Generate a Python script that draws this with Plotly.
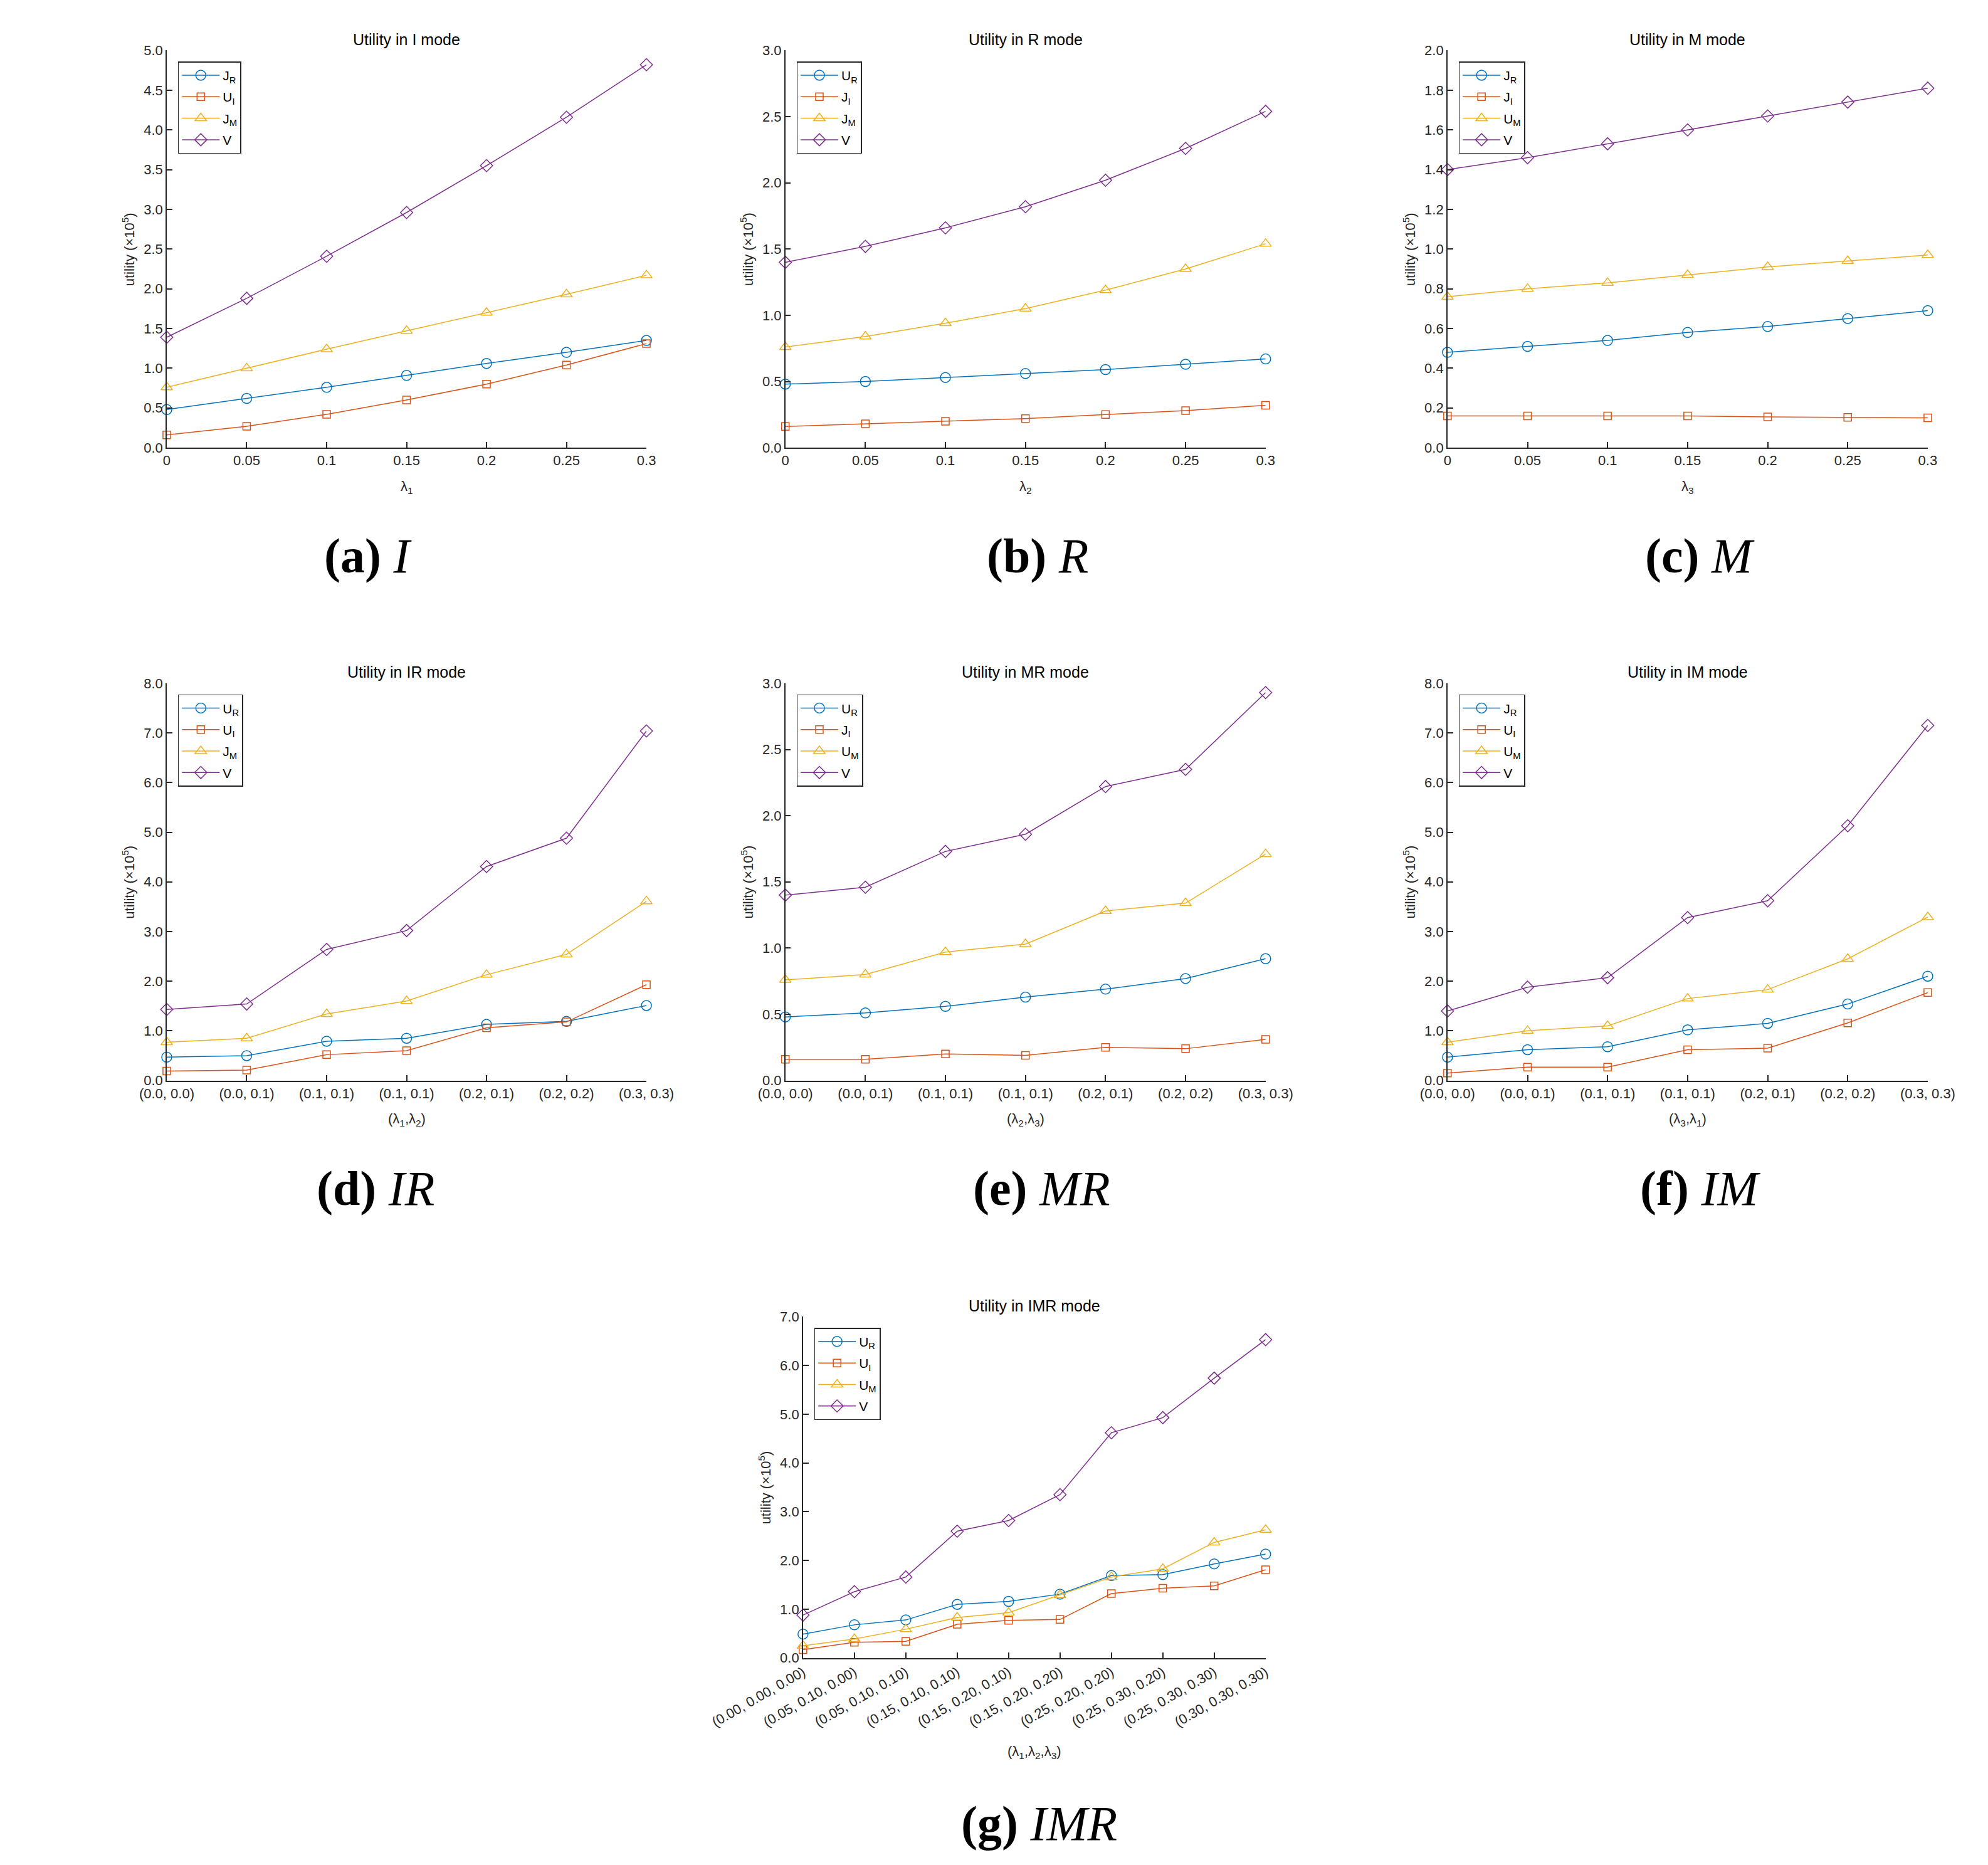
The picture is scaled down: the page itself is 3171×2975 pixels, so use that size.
import plotly.graph_objects as go

W, H = 3171, 2975

# x values
lam = [0, 0.05, 0.1, 0.15, 0.2, 0.25, 0.3]
pair_labels = ["(0.0, 0.0)", "(0.0, 0.1)", "(0.1, 0.1)", "(0.1, 0.1)",
               "(0.2, 0.1)", "(0.2, 0.2)", "(0.3, 0.3)"]
triple_labels = ["(0.00, 0.00, 0.00)", "(0.05, 0.10, 0.00)", "(0.05, 0.10, 0.10)",
                 "(0.15, 0.10, 0.10)", "(0.15, 0.20, 0.10)", "(0.15, 0.20, 0.20)",
                 "(0.25, 0.20, 0.20)", "(0.25, 0.30, 0.20)", "(0.25, 0.30, 0.30)",
                 "(0.30, 0.30, 0.30)"]

# (a) I mode
a_jr = [0.48, 0.62, 0.76, 0.91, 1.06, 1.20, 1.35]
a_ui = [0.16, 0.27, 0.42, 0.60, 0.80, 1.04, 1.31]
a_jm = [0.76, 1.00, 1.24, 1.47, 1.70, 1.93, 2.17]
a_v = [1.39, 1.88, 2.41, 2.96, 3.55, 4.16, 4.82]

# (b) R mode
b_ur = [0.48, 0.50, 0.53, 0.56, 0.59, 0.63, 0.67]
b_ji = [0.16, 0.18, 0.20, 0.22, 0.25, 0.28, 0.32]
b_jm = [0.76, 0.84, 0.94, 1.05, 1.19, 1.35, 1.54]
b_v = [1.40, 1.52, 1.66, 1.82, 2.02, 2.26, 2.54]

# (c) M mode
c_jr = [0.48, 0.51, 0.54, 0.58, 0.61, 0.65, 0.69]
c_ji = [0.16, 0.16, 0.16, 0.16, 0.155, 0.153, 0.15]
c_um = [0.76, 0.80, 0.83, 0.87, 0.91, 0.94, 0.97]
c_v = [1.40, 1.46, 1.53, 1.60, 1.67, 1.74, 1.81]

# (d) IR mode
d_ur = [0.47, 0.50, 0.79, 0.85, 1.13, 1.19, 1.51]
d_ui = [0.19, 0.21, 0.52, 0.60, 1.06, 1.18, 1.93]
d_jm = [0.77, 0.85, 1.34, 1.60, 2.13, 2.54, 3.61]
d_v = [1.43, 1.54, 2.64, 3.02, 4.31, 4.88, 7.04]

# (e) MR mode
e_ur = [0.48, 0.51, 0.56, 0.63, 0.69, 0.77, 0.92]
e_ji = [0.16, 0.16, 0.20, 0.19, 0.25, 0.24, 0.31]
e_um = [0.76, 0.80, 0.97, 1.03, 1.28, 1.34, 1.71]
e_v = [1.40, 1.46, 1.73, 1.86, 2.22, 2.35, 2.93]

# (f) IM mode
f_jr = [0.47, 0.62, 0.68, 1.02, 1.15, 1.54, 2.10]
f_ui = [0.15, 0.27, 0.27, 0.62, 0.65, 1.16, 1.77]
f_um = [0.77, 1.00, 1.10, 1.65, 1.83, 2.45, 3.29]
f_v = [1.40, 1.88, 2.07, 3.28, 3.62, 5.13, 7.15]

# (g) IMR mode
g_ur = [0.49, 0.68, 0.78, 1.10, 1.16, 1.31, 1.69, 1.71, 1.93, 2.13]
g_ui = [0.17, 0.32, 0.34, 0.69, 0.77, 0.79, 1.32, 1.43, 1.48, 1.81]
g_um = [0.25, 0.39, 0.59, 0.83, 0.93, 1.29, 1.66, 1.83, 2.37, 2.63]
g_v = [0.88, 1.36, 1.66, 2.60, 2.82, 3.35, 4.62, 4.93, 5.74, 6.53]

COLORS = ["#0072BD", "#D95319", "#EDB120", "#7E2F8E"]
SYMBOLS = ["circle-open", "square-open", "triangle-up-open", "diamond-open"]
SIZES = [16, 12, 16, 15]
AX = "#262626"

# panel boxes in pixels: left, right, top, bottom
panels = [
    dict(box=(115, 930, 61, 700), title="Utility in I mode", xlab="λ<sub>1</sub>",
         x=lam, ticks=None, ymax=5, dy=0.5, cap="<b>(a)</b> <i>I</i>", capx=457, capy=874,
         names=["J<sub>R</sub>", "U<sub>I</sub>", "J<sub>M</sub>", "V"], ys=[a_jr, a_ui, a_jm, a_v]),
    dict(box=(1166, 1982, 61, 700), title="Utility in R mode", xlab="λ<sub>2</sub>",
         x=lam, ticks=None, ymax=3, dy=0.5, cap="<b>(b)</b> <i>R</i>", capx=1595, capy=874,
         names=["U<sub>R</sub>", "J<sub>I</sub>", "J<sub>M</sub>", "V"], ys=[b_ur, b_ji, b_jm, b_v]),
    dict(box=(2291, 3107, 61, 700), title="Utility in M mode", xlab="λ<sub>3</sub>",
         x=lam, ticks=None, ymax=2, dy=0.2, cap="<b>(c)</b> <i>M</i>", capx=2720, capy=874,
         names=["J<sub>R</sub>", "J<sub>I</sub>", "U<sub>M</sub>", "V"], ys=[c_jr, c_ji, c_um, c_v]),
    dict(box=(115, 930, 1079, 1718), title="Utility in IR mode", xlab="(λ<sub>1</sub>,λ<sub>2</sub>)",
         x=None, ticks=pair_labels, ymax=8, dy=1, cap="<b>(d)</b> <i>IR</i>", capx=470, capy=1891,
         names=["U<sub>R</sub>", "U<sub>I</sub>", "J<sub>M</sub>", "V"], ys=[d_ur, d_ui, d_jm, d_v]),
    dict(box=(1166, 1982, 1079, 1718), title="Utility in MR mode", xlab="(λ<sub>2</sub>,λ<sub>3</sub>)",
         x=None, ticks=pair_labels, ymax=3, dy=0.5, cap="<b>(e)</b> <i>MR</i>", capx=1602, capy=1891,
         names=["U<sub>R</sub>", "J<sub>I</sub>", "U<sub>M</sub>", "V"], ys=[e_ur, e_ji, e_um, e_v]),
    dict(box=(2291, 3107, 1079, 1718), title="Utility in IM mode", xlab="(λ<sub>3</sub>,λ<sub>1</sub>)",
         x=None, ticks=pair_labels, ymax=8, dy=1, cap="<b>(f)</b> <i>IM</i>", capx=2720, capy=1891,
         names=["J<sub>R</sub>", "U<sub>I</sub>", "U<sub>M</sub>", "V"], ys=[f_jr, f_ui, f_um, f_v]),
    dict(box=(1196, 1982, 2098, 2647), title="Utility in IMR mode",
         xlab="(λ<sub>1</sub>,λ<sub>2</sub>,λ<sub>3</sub>)",
         x=None, ticks=triple_labels, ymax=7, dy=1, cap="<b>(g)</b> <i>IMR</i>", capx=1597, capy=2913,
         names=["U<sub>R</sub>", "U<sub>I</sub>", "U<sub>M</sub>", "V"], ys=[g_ur, g_ui, g_um, g_v]),
]

fig = go.Figure()
annotations = []

for i, p in enumerate(panels):
    n = i + 1
    sfx = "" if n == 1 else str(n)
    l, r, t, b = p["box"]
    xdom = [l / W, r / W]
    ydom = [1 - b / H, 1 - t / H]
    leg = "legend" + sfx

    if p["x"] is not None:
        xs = p["x"]
        xaxis = dict(range=[0, 0.3], dtick=0.05, tickangle=0)
    else:
        xs = list(range(len(p["ticks"])))
        xaxis = dict(range=[0, len(xs) - 1], tickvals=xs, ticktext=p["ticks"],
                     tickangle=-30 if n == 7 else 0)

    for k in range(4):
        fig.add_trace(go.Scatter(
            x=xs, y=p["ys"][k], name=p["names"][k], mode="lines+markers",
            line=dict(color=COLORS[k], width=1.5),
            marker=dict(symbol=SYMBOLS[k], size=SIZES[k], color=COLORS[k],
                        line=dict(width=1.5, color=COLORS[k])),
            cliponaxis=False, legend=leg, legendgroup=f"p{n}_{k}",
            xaxis="x" + sfx, yaxis="y" + sfx,
        ))

    common = dict(showline=True, linecolor=AX, linewidth=1.5, ticks="inside", ticklen=9,
                  tickcolor=AX, tickwidth=1.5, showgrid=False, zeroline=False,
                  tickfont=dict(family="Liberation Sans", size=22, color=AX))
    fig.update_layout(**{
        "xaxis" + sfx: dict(domain=xdom, anchor="y" + sfx, **xaxis, **common),
        "yaxis" + sfx: dict(domain=ydom, anchor="x" + sfx, range=[0, p["ymax"]],
                            dtick=p["dy"], tickformat=".1f", **common),
        leg: dict(x=(l + 19) / W, y=1 - (t + 18) / H, xanchor="left", yanchor="top",
                  bgcolor="white", bordercolor=AX, borderwidth=1.5,
                  font=dict(family="Liberation Sans", size=21, color="black"),
                  tracegroupgap=4, itemwidth=60),
    })

    cx = (l + r) / 2
    # title
    annotations.append(dict(x=cx / W, y=1 - (t - 18) / H, xref="paper", yref="paper",
                            text=p["title"], showarrow=False, xanchor="center", yanchor="middle",
                            font=dict(family="Liberation Sans", size=25, color="black")))
    # x label
    xly = b + (152 if n == 7 else 63)
    annotations.append(dict(x=cx / W, y=1 - xly / H, xref="paper", yref="paper",
                            text=p["xlab"], showarrow=False, xanchor="center", yanchor="middle",
                            font=dict(family="Liberation Sans", size=22, color=AX)))
    # y label
    annotations.append(dict(x=(l - 65) / W, y=1 - (t + b) / 2 / H, xref="paper", yref="paper",
                            text="utility (×10<sup>5</sup>)", textangle=-90, showarrow=False,
                            xanchor="center", yanchor="middle",
                            font=dict(family="Liberation Sans", size=22, color=AX)))
    # caption
    annotations.append(dict(x=p["capx"] / W, y=1 - p["capy"] / H, xref="paper", yref="paper",
                            text=p["cap"], showarrow=False, xanchor="center", yanchor="middle",
                            font=dict(family="Liberation Serif", size=78, color="black")))

fig.update_layout(width=W, height=H, margin=dict(l=0, r=0, t=0, b=0),
                  plot_bgcolor="white", paper_bgcolor="white",
                  annotations=annotations, showlegend=True)

fig.write_html("out.html")
